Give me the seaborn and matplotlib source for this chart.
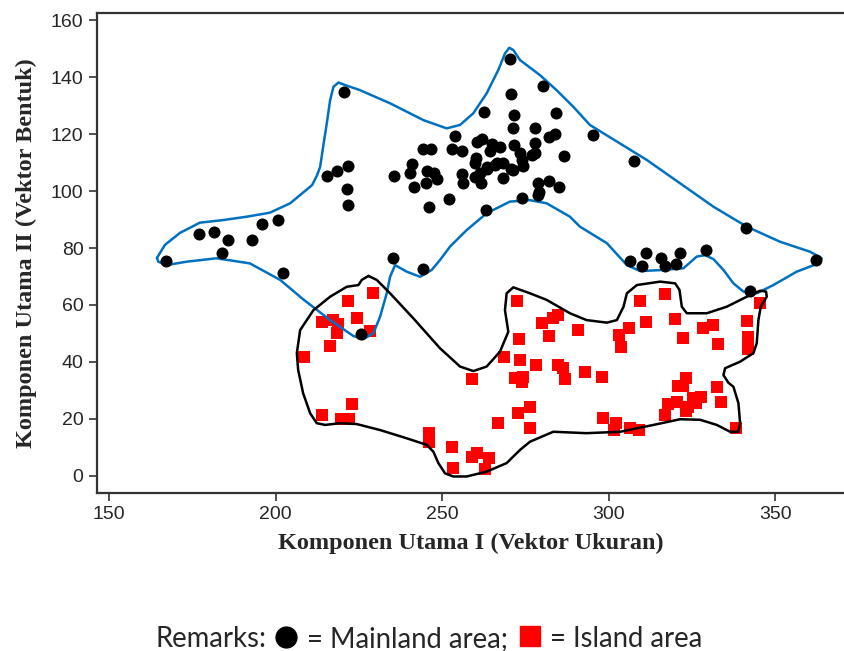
import numpy as np
import pandas as pd
import matplotlib
matplotlib.use("Agg")
import matplotlib.pyplot as plt
from matplotlib.lines import Line2D
import seaborn as sns

# ---------------- data ----------------
mainland_x = [167.1, 177.1, 181.5, 185.8, 183.8, 193.0, 195.9, 200.6, 202.1, 215.6,
              218.4, 220.5, 221.9, 221.6, 221.9, 270.3, 270.8, 280.3, 262.6, 271.7,
              284.2, 271.2, 277.9, 253.9, 282.2, 283.8, 295.3, 244.4, 246.8, 253.0,
              256.0, 260.4, 261.9, 264.9, 267.4, 271.7, 264.4, 273.4, 273.9, 277.9,
              277.9, 276.9, 286.6, 260.2, 259.9, 268.4, 265.9, 263.4, 270.6, 274.4,
              261.4, 259.9, 268.4, 261.6, 255.9, 256.4, 245.4, 247.6, 248.6, 245.2,
              240.9, 240.4, 241.6, 235.7, 246.2, 252.0, 263.1, 274.1, 278.9, 279.2,
              278.8, 282.2, 285.1, 235.2, 244.4, 225.6, 307.7, 306.3, 311.1, 310.1,
              315.9, 316.9, 320.2, 321.6, 329.2, 341.2, 362.3, 342.6, 263.4, 266.4,
              271.4]
mainland_y = [75.5, 84.9, 85.5, 82.7, 78.2, 82.7, 88.3, 90.0, 71.3, 105.4,
              106.9, 134.6, 108.9, 100.6, 95.2, 146.4, 133.9, 136.8, 127.8, 126.6,
              127.3, 122.2, 122.2, 119.3, 119.1, 119.9, 119.8, 114.8, 114.8, 114.8,
              114.1, 117.3, 118.1, 116.5, 115.5, 116.0, 114.1, 113.2, 110.9, 116.7,
              113.2, 112.6, 112.3, 111.7, 109.7, 109.7, 109.1, 108.5, 107.6, 108.9,
              106.2, 104.8, 104.5, 102.7, 106.0, 102.7, 107.1, 106.4, 104.2, 102.9,
              109.4, 106.4, 101.3, 105.3, 94.5, 97.3, 93.3, 97.4, 102.7, 99.5,
              98.6, 103.5, 101.3, 76.4, 72.5, 49.8, 110.5, 75.4, 78.2, 73.8,
              76.6, 73.8, 74.3, 78.2, 79.4, 87.1, 75.7, 65.0, 107.7, 109.7,
              107.4]

island_x = [229.3, 221.7, 213.9, 217.4, 218.9, 224.6, 218.4, 228.4, 216.4, 208.6,
            223.1, 214.0, 219.8, 222.1, 246.1, 246.1, 252.9, 253.4, 258.9, 260.6,
            264.2, 262.9, 266.7, 259.1, 272.5, 273.0, 268.7, 273.4, 271.9, 274.2,
            273.9, 272.9, 276.4, 276.4, 280.1, 283.4, 284.9, 282.1, 290.7, 278.2,
            284.9, 286.2, 286.9, 293.0, 297.9, 309.5, 317.1, 311.3, 306.0, 303.2,
            303.6, 320.0, 322.4, 328.5, 331.5, 333.0, 341.5, 342.0, 342.0, 345.5,
            298.4, 302.3, 301.5, 306.5, 309.0, 317.1, 317.9, 320.5, 321.0, 323.4,
            322.4, 324.0, 323.4, 325.4, 326.4, 327.9, 332.6, 333.8, 338.2]
island_y = [64.3, 61.5, 54.2, 54.7, 53.2, 55.3, 50.3, 50.9, 45.6, 41.8,
            25.3, 21.4, 19.9, 19.9, 15.0, 12.0, 10.0, 2.7, 6.8, 8.0,
            6.2, 2.4, 18.5, 33.9, 61.4, 48.0, 41.6, 40.7, 34.3, 34.8,
            33.1, 22.0, 24.3, 16.8, 53.8, 55.3, 56.5, 49.1, 51.2, 38.9,
            38.9, 37.8, 33.9, 36.6, 34.8, 61.5, 63.7, 54.2, 51.8, 49.5,
            45.2, 55.1, 48.5, 51.8, 52.9, 46.2, 54.5, 48.9, 44.5, 60.8,
            20.2, 18.5, 16.1, 16.9, 16.1, 21.4, 25.3, 26.1, 31.6, 34.3,
            31.6, 24.3, 22.9, 27.3, 25.7, 27.6, 31.1, 25.9, 16.9]

# outline of the mainland group (blue)
mainland_outline_x = [164.4, 166.8, 171.3, 177.3, 184.2, 191.4, 198.3, 204.4, 211.0, 212.5,
                      213.4, 214.3, 215.4, 216.4, 217.4, 218.9, 220.9, 225.4, 234.4, 244.4,
                      251.4, 255.4, 259.4, 263.4, 266.9, 268.9, 270.2, 271.4, 273.4, 279.4,
                      284.4, 289.4, 294.4, 311.5, 321.5, 331.5, 341.5, 351.5, 360.5, 364.0,
                      363.0, 356.5, 349.5, 344.5, 340.5, 337.5, 334.5, 331.5, 329.0, 326.5,
                      322.5, 316.5, 309.5, 305.5, 299.5, 291.4, 288.4, 281.4, 276.4, 270.4,
                      263.4, 257.4, 252.4, 249.4, 246.9, 243.4, 239.4, 235.9, 234.4, 233.4,
                      231.4, 229.4, 226.4, 223.4, 216.4, 208.3, 201.4, 192.3, 182.3, 173.3,
                      167.3, 164.8, 164.4]
mainland_outline_y = [76.5, 81.1, 85.3, 88.9, 89.8, 91.0, 92.4, 95.7, 102.1, 105.6,
                      108.5, 115.5, 123.8, 131.9, 136.6, 138.1, 137.2, 135.4, 130.8, 124.9,
                      122.0, 123.2, 127.3, 134.3, 142.5, 148.3, 150.3, 149.5, 146.0, 140.7,
                      135.4, 129.6, 123.2, 110.9, 102.7, 94.5, 87.5, 82.2, 78.7, 76.4,
                      74.6, 71.7, 67.0, 64.1, 64.7, 67.6, 72.3, 76.1, 77.5, 77.0,
                      72.9, 72.3, 71.9, 74.0, 81.7, 87.5, 91.0, 95.7, 96.8, 96.3,
                      92.2, 86.3, 80.5, 75.8, 72.3, 69.9, 71.7, 74.0, 69.9, 64.1,
                      55.9, 50.1, 48.0, 49.1, 54.7, 62.0, 68.8, 74.6, 76.4, 75.2,
                      74.0, 75.2, 76.5]

# outline of the island group (black)
island_outline_x = [227.9, 225.9, 224.9, 221.4, 216.4, 211.4, 207.4, 206.4, 206.8, 208.3,
                    210.4, 212.4, 214.9, 219.4, 224.4, 231.4, 239.4, 245.4, 247.4, 248.9,
                    250.9, 253.4, 257.4, 263.4, 269.4, 273.4, 276.4, 283.4, 293.4, 303.5,
                    313.5, 321.5, 327.5, 332.5, 336.5, 339.0, 339.5, 339.0, 337.5, 336.0,
                    334.5, 335.0, 339.5, 343.5, 344.5, 345.0, 345.7, 347.5, 347.3, 345.5,
                    341.5, 335.5, 329.5, 323.5, 322.0, 321.3, 320.0, 315.5, 308.5, 305.5,
                    304.5, 302.5, 299.5, 293.4, 288.4, 281.4, 276.4, 271.4, 269.4, 268.9,
                    269.9, 267.4, 263.4, 259.4, 255.4, 249.4, 241.4, 234.4, 230.4, 227.9]
island_outline_y = [70.2, 68.8, 67.0, 66.4, 62.9, 58.2, 51.2, 43.1, 37.2, 29.0,
                    22.0, 18.5, 17.9, 18.5, 18.2, 16.1, 13.2, 10.9, 8.5, 4.5,
                    0.9, -0.2, -0.2, 1.5, 4.5, 9.1, 12.0, 15.5, 15.0, 15.5,
                    17.9, 19.9, 19.7, 17.9, 15.5, 15.5, 18.5, 25.5, 31.3, 32.7,
                    35.4, 37.8, 40.1, 43.1, 46.6, 54.7, 59.4, 62.9, 64.7, 65.0,
                    62.9, 59.4, 57.1, 57.1, 59.4, 65.3, 67.6, 68.2, 67.0, 64.1,
                    59.4, 54.7, 53.8, 54.7, 57.1, 61.8, 64.1, 66.2, 64.1, 58.2,
                    50.6, 43.6, 38.4, 36.8, 38.4, 44.8, 55.3, 64.1, 68.8, 70.2]

x_ticks = [150, 200, 250, 300, 350]
y_ticks = [0, 20, 40, 60, 80, 100, 120, 140, 160]
x_label = "Komponen Utama I (Vektor Ukuran)"
y_label = "Komponen Utama II (Vektor Bentuk)"

# ---------------- plot ----------------
sns.set_style("white")
plt.rcParams["font.family"] = ["DejaVu Sans"]

fig = plt.figure(figsize=(8.45, 6.51), dpi=100)
ax = fig.add_axes([97 / 845, 1 - 493 / 651, 1 - 97 / 845, (493 - 13) / 651])

df_island = pd.DataFrame({"x": island_x, "y": island_y})
df_main = pd.DataFrame({"x": mainland_x, "y": mainland_y})

sns.scatterplot(data=df_island, x="x", y="y", marker="s", color="#ff0000",
                s=80, linewidth=0, ax=ax, zorder=2, legend=False)
ax.plot(mainland_outline_x, mainland_outline_y, color="#0070c0", lw=1.8,
        solid_joinstyle="round", zorder=3)
ax.plot(island_outline_x, island_outline_y, color="black", lw=1.8,
        solid_joinstyle="round", zorder=3)
sns.scatterplot(data=df_main, x="x", y="y", marker="o", color="black",
                s=75, linewidth=0, ax=ax, zorder=4, legend=False)

ax.set_xlim(146.4, 371.0)
ax.set_ylim(-6.0, 162.5)
ax.set_xticks(x_ticks)
ax.set_yticks(y_ticks)
ax.tick_params(axis="both", which="both", direction="out", length=5.8, width=1.2,
               color="#333333", labelsize=14, bottom=True, left=True)
ax.tick_params(axis="y", pad=4)
ax.tick_params(axis="x", pad=3.5)
for lab in ax.get_xticklabels() + ax.get_yticklabels():
    lab.set_fontfamily(["Liberation Sans", "DejaVu Sans"])

for side in ["left", "bottom", "top"]:
    ax.spines[side].set_color("#333333")
    ax.spines[side].set_linewidth(1.6)
ax.spines["right"].set_visible(False)

ax.set_xlabel(x_label, fontsize=17.5, fontweight="bold",
              fontfamily=["Liberation Serif", "DejaVu Serif"], labelpad=7)
ax.set_ylabel(y_label, fontsize=17.5, fontweight="bold",
              fontfamily=["Liberation Serif", "DejaVu Serif"], labelpad=10)

# caption-like legend line
leg_font = dict(fontsize=19.8, fontfamily=["Lato", "DejaVu Sans"], va="baseline", ha="left")
yb = 1 - 647 / 651
fig.text(156 / 845, yb, "Remarks:", **leg_font)
fig.text(307 / 845, yb, "= Mainland area;", **leg_font)
fig.text(550 / 845, yb, "= Island area", **leg_font)
fig.add_artist(Line2D([286 / 845], [1 - 637 / 651], marker="o", markersize=15,
                      color="black", linestyle="none", transform=fig.transFigure))
fig.add_artist(Line2D([530 / 845], [1 - 636 / 651], marker="s", markersize=14.5,
                      color="#ff0000", linestyle="none", transform=fig.transFigure))

fig.savefig("out.png", dpi=100)
